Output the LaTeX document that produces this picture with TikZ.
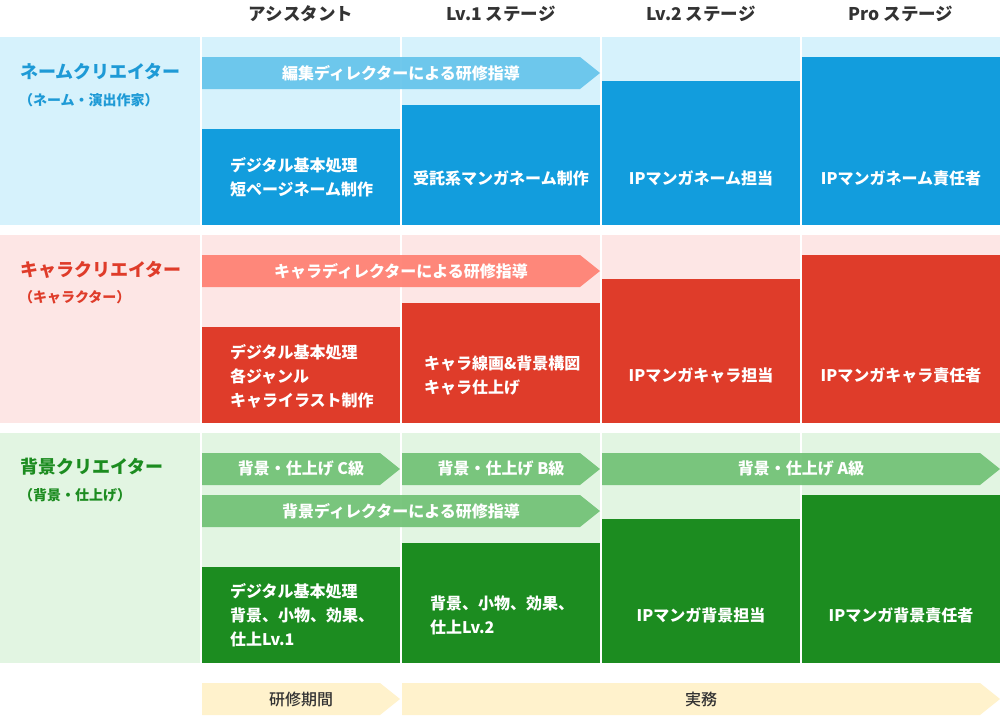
\documentclass[tikz,border=0pt]{standalone}
\usepackage{fontspec}
\setmainfont{Noto Sans CJK JP}
\newfontfamily\medfont{Noto Sans CJK JP Medium}
\definecolor{hdrgray}{HTML}{333333}
\definecolor{bgA}{HTML}{D6F2FC}
\definecolor{blkA}{HTML}{129DDD}
\definecolor{arrA}{HTML}{66C4EB}
\definecolor{labA}{HTML}{1E9AD6}
\definecolor{bgB}{HTML}{FDE6E5}
\definecolor{blkB}{HTML}{DF3C2A}
\definecolor{arrB}{HTML}{FF8072}
\definecolor{labB}{HTML}{DF3C2A}
\definecolor{bgC}{HTML}{E2F5E2}
\definecolor{blkC}{HTML}{1C8C20}
\definecolor{arrC}{HTML}{72C276}
\definecolor{labC}{HTML}{1C8C20}
\definecolor{yel}{HTML}{FFF2CC}
\newcommand\myband[6]{%
  \fill[#1,opacity=0.93] (#2,#4) -- ({#3-20},#4) -- (#3,{(#4+#5)/2}) -- ({#3-20},#5) -- (#2,#5) -- cycle;
  \node[arrtxt] (#6) at ({(#2+#3)/2},{(#4+#5)/2})}
\begin{document}
\begin{tikzpicture}[x=1pt,y=-1pt,
  every node/.style={inner sep=0pt, outer sep=0pt},
  hdr/.style={font=\fontsize{17.5}{20}\selectfont\bfseries, text=hdrgray, anchor=center},
  lab/.style={font=\fontsize{18}{20}\selectfont\bfseries, anchor=west},
  sublab/.style={font=\fontsize{14}{16}\selectfont\bfseries, anchor=west},
  blk/.style={font=\fontsize{16}{24}\selectfont\bfseries, text=white, align=left},
  arrtxt/.style={font=\fontsize{16}{20}\selectfont\bfseries, text=white},
  yeltxt/.style={font=\fontsize{16}{20}\selectfont\medfont, text=hdrgray}]
\useasboundingbox (0,0) rectangle (1000,715);
\fill[white] (0,0) rectangle (1000,715);
% headers
\node[hdr] (h1) at (301,14) {アシスタント};
\node[hdr] (h2) at (501,14) {Lv.1 ステージ};
\node[hdr] (h3) at (701,14) {Lv.2 ステージ};
\node[hdr] (h4) at (901,14) {Pro ステージ};
% row backgrounds
\fill[bgA] (0,37) rectangle (1000,225);
\fill[bgB] (0,235) rectangle (1000,423);
\fill[bgC] (0,433) rectangle (1000,663);
% separators
\foreach \x in {200,400,600,800} {
  \fill[white] (\x,37) rectangle (\x+2,225);
  \fill[white] (\x,235) rectangle (\x+2,423);
  \fill[white] (\x,433) rectangle (\x+2,663);
}
% blocks row A
\fill[blkA] (202,129) rectangle (400,225);
\fill[blkA] (402,105) rectangle (600,225);
\fill[blkA] (602,81) rectangle (800,225);
\fill[blkA] (802,57) rectangle (1000,225);
% blocks row B
\fill[blkB] (202,327) rectangle (400,423);
\fill[blkB] (402,303) rectangle (600,423);
\fill[blkB] (602,279) rectangle (800,423);
\fill[blkB] (802,255) rectangle (1000,423);
% blocks row C
\fill[blkC] (202,567) rectangle (400,663);
\fill[blkC] (402,543) rectangle (600,663);
\fill[blkC] (602,519) rectangle (800,663);
\fill[blkC] (802,495) rectangle (1000,663);
% labels
\node[lab, text=labA] (la) at (20,72) {ネームクリエイター};
\node[sublab, text=labA] (sa) at (19,100) {（ネーム・演出作家）};
\node[lab, text=labB] (lb) at (20,270) {キャラクリエイター};
\node[sublab, text=labB] (sb) at (19,297) {（キャラクター）};
\node[lab, text=labC] (lc) at (20,467) {背景クリエイター};
\node[sublab, text=labC] (sc) at (19,495) {（背景・仕上げ）};
% block texts row A
\node[blk, anchor=west] (a1) at (230,177) {デジタル基本処理\\短ページネーム制作};
\node[blk] (a2) at (501,178) {受託系マンガネーム制作};
\node[blk] (a3) at (701,178) {IPマンガネーム担当};
\node[blk] (a4) at (901,178) {IPマンガネーム責任者};
% block texts row B
\node[blk, anchor=west] (b1) at (230,376) {デジタル基本処理\\各ジャンル\\キャライラスト制作};
\node[blk, anchor=west] (b2) at (424,376) {キャラ線画\&背景構図\\キャラ仕上げ};
\node[blk] (b3) at (701,376) {IPマンガキャラ担当};
\node[blk] (b4) at (901,376) {IPマンガキャラ責任者};
% block texts row C
\node[blk, anchor=west] (c1) at (230,615) {デジタル基本処理\\背景、小物、効果、\\仕上Lv.1};
\node[blk, anchor=west] (c2) at (430,615) {背景、小物、効果、\\仕上Lv.2};
\node[blk] (c3) at (701,615) {IPマンガ背景担当};
\node[blk] (c4) at (901,615) {IPマンガ背景責任者};
% arrows
\myband{arrA}{202}{600}{57}{89}{ra} {編集ディレクターによる研修指導};
\myband{arrB}{202}{600}{255}{287}{rb} {キャラディレクターによる研修指導};
\myband{arrC}{202}{400}{453}{485}{rc1} {背景・仕上げ C級};
\myband{arrC}{402}{600}{453}{485}{rc2} {背景・仕上げ B級};
\myband{arrC}{602}{1000}{453}{485}{rc3} {背景・仕上げ A級};
\myband{arrC}{202}{600}{495}{527}{rc4} {背景ディレクターによる研修指導};
% bottom
\fill[yel] (202,683) -- (380,683) -- (400,699) -- (380,715) -- (202,715) -- cycle;
\fill[yel] (402,683) -- (980,683) -- (1000,699) -- (980,715) -- (402,715) -- cycle;
\node[yeltxt] (y1) at (301,699) {研修期間};
\node[yeltxt] (y2) at (701,699) {実務};
\end{tikzpicture}
\end{document}
